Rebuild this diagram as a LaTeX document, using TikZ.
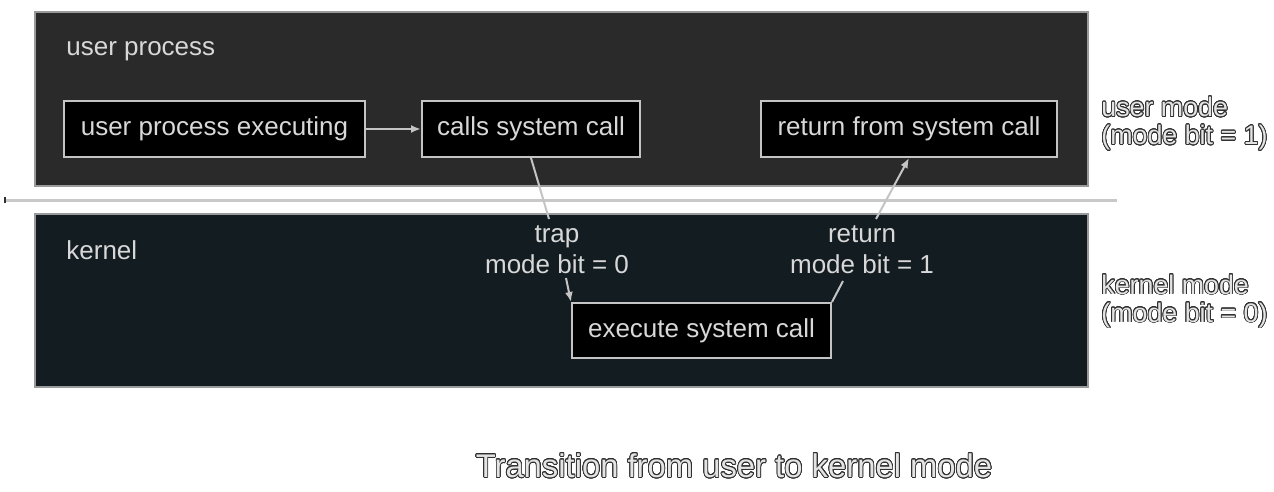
\documentclass[tikz,border=0pt]{standalone}
\usepackage{fontspec}
\setmainfont{Liberation Sans}
\usepackage{contour}
\usetikzlibrary{arrows.meta}
\contourlength{0.4pt}
\contournumber{24}
\definecolor{userbg}{HTML}{2A2A2A}
\definecolor{kernelbg}{HTML}{131C21}
\definecolor{panelline}{HTML}{9A9A9A}
\definecolor{boxline}{HTML}{C4C4C4}
\definecolor{boxtext}{HTML}{D8D8D8}
\definecolor{sepline}{HTML}{C8C8C8}
\definecolor{outfill}{HTML}{E4E4E4}
\definecolor{outline}{HTML}{303030}
\newcommand{\outtext}[1]{\textcolor{outfill}{\contour{outline}{#1}}}

\begin{document}
\begin{tikzpicture}[x=0.5pt,y=-0.5pt,>={Latex[length=5pt,width=4pt]},
    every node/.style={font=\fontsize{13}{15.5}\selectfont},
    panel/.style={draw=panelline,line width=0.8pt},
    procbox/.style={draw=boxline,fill=black,text=boxtext,line width=1pt,
        minimum height=28pt,inner sep=0pt},
    flow/.style={draw=boxline,line width=1pt},
    lbl/.style={text=boxtext,inner sep=0pt,align=center}]
    \useasboundingbox (0,0) rectangle (1274,492);

    % user side
    \draw[panel,fill=userbg] (35,12) rectangle (1088,186);
    \node[lbl,anchor=west] (userlbl) at (66,51) {user process};

    \node[procbox,minimum width=150.5pt] (userexec) at (214.5,129)
    {user process executing};
    \node[procbox,minimum width=109pt] (calls) at (531,129)
    {calls system call};
    \node[procbox,minimum width=148pt] (ret) at (909,129)
    {return from system call};

    \draw[flow,->] (userexec) -- (calls);

    % separator
    \draw[sepline,line width=1.5pt] (5,200) -- (1117,200);
    \draw[outline,line width=1pt] (5,197) -- (5,203);

    % kernel side
    \draw[panel,fill=kernelbg] (35,214) rectangle (1088,387);
    \node[lbl,anchor=west] (kernellbl) at (66,250) {kernel};

    \node[procbox,minimum width=129.5pt,minimum height=27.5pt] (sys)
    at (701.5,330.5) {execute system call};

    \node[lbl] (trap) at (557,250) {trap\\mode bit = 0};
    \node[lbl] (retlbl) at (862,250) {return\\mode bit = 1};

    \coordinate (trapin) at (549,219);
    \coordinate (trapout) at (566,278);
    \coordinate (retout) at (843,281);
    \coordinate (retin) at (876,219);

    \draw[flow] (calls.south) -- (trapin);
    \draw[flow,->] (trapout) -- (sys.north west);
    \draw[flow] (sys.north east) -- (retout);
    \draw[flow,->] (retin) -- (ret.south);

    % modes
    \node[anchor=west,align=left,inner sep=0pt,
    font=\fontsize{13.4}{14}\selectfont] (usermode) at (1101,124)
    {\outtext{user mode}\\\outtext{(mode bit = 1)}};
    \node[anchor=west,align=left,inner sep=0pt,
    font=\fontsize{13.4}{14}\selectfont] (kernelmode) at (1101,301.5)
    {\outtext{kernel mode}\\\outtext{(mode bit = 0)}};

    \node[font=\fontsize{16.4}{19}\selectfont] (caption) at (734,466)
    {\outtext{Transition from user to kernel mode}};
\end{tikzpicture}
\end{document}
